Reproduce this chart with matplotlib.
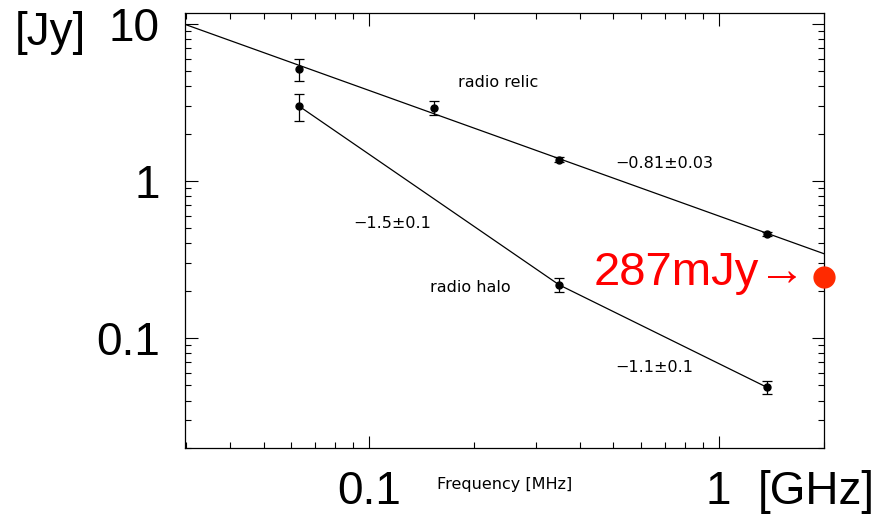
import numpy as np
import matplotlib.pyplot as plt
from matplotlib.ticker import LogLocator, NullFormatter, FixedLocator, FixedFormatter

# data (GHz, Jy)
relic_freq = [0.063, 0.153, 0.35, 1.37]
relic_flux = [5.17, 2.92, 1.36, 0.459]
relic_err = [0.83, 0.3, 0.05, 0.012]

halo_freq = [0.063, 0.35, 1.37]
halo_flux = [3.0, 0.218, 0.0488]
halo_err = [0.58, 0.022, 0.0045]

pred_freq = [2.0]
pred_flux = [0.245]

xticks = [0.1, 1]
xticklabels = ['0.1', '1']
yticks = [0.1, 1, 10]
yticklabels = ['0.1', '1', '10']

big = ['Liberation Sans', 'DejaVu Sans']
W, H = 883, 516


def px(x, y):
    # pixel position (from top-left) -> figure fraction
    return x / W, 1 - y / H


fig = plt.figure(figsize=(8.83, 5.16), dpi=100)
ax = fig.add_axes([185 / W, 68 / H, 639 / W, 435 / H])
ax.set_xscale('log')
ax.set_yscale('log')
ax.set_xlim(0.0298, 2.0)
ax.set_ylim(0.02, 11.7)

# relic: power-law fit over whole range
p = np.polyfit(np.log10(relic_freq), np.log10(relic_flux), 1)
xf = np.logspace(np.log10(0.0298), np.log10(2.0), 50)
ax.plot(xf, 10 ** np.polyval(p, np.log10(xf)), color='black', lw=0.9)
ax.errorbar(relic_freq, relic_flux, yerr=relic_err, fmt='o', color='black',
            ms=5, capsize=3.5, elinewidth=0.9, capthick=0.9)

# halo: broken power law through the points
ax.plot(halo_freq, halo_flux, color='black', lw=0.9)
ax.errorbar(halo_freq, halo_flux, yerr=halo_err, fmt='o', color='black',
            ms=5, capsize=3.5, elinewidth=0.9, capthick=0.9)

ax.plot(pred_freq, pred_flux, 'o', color='#ff2a00', ms=15, clip_on=False, zorder=5)

# ticks
ax.xaxis.set_major_locator(FixedLocator(xticks))
ax.xaxis.set_major_formatter(FixedFormatter(xticklabels))
ax.yaxis.set_major_locator(FixedLocator(yticks))
ax.yaxis.set_major_formatter(FixedFormatter(yticklabels))
for a in (ax.xaxis, ax.yaxis):
    a.set_minor_locator(LogLocator(base=10, subs=np.arange(2, 10)))
    a.set_minor_formatter(NullFormatter())
ax.tick_params(which='both', direction='in', top=True, right=True, width=0.8)
ax.tick_params(which='major', length=9)
ax.tick_params(which='minor', length=4.5)
ax.tick_params(axis='y', which='major', pad=18)
ax.tick_params(axis='x', which='major', pad=16)
for lab in ax.get_xticklabels() + ax.get_yticklabels():
    lab.set_family(big)
    lab.set_fontsize(33)
for s in ax.spines.values():
    s.set_linewidth(0.9)

# small annotations
small = dict(fontsize=11.5, va='center')
fig.text(*px(458, 82), 'radio relic', **small)
fig.text(*px(615, 163), '\u22120.81\u00b10.03', **small)
fig.text(*px(353, 224), '\u22121.5\u00b10.1', **small)
fig.text(*px(430, 287), 'radio halo', **small)
fig.text(*px(615, 368), '\u22121.1\u00b10.1', **small)
fig.text(*px(505, 485), 'Frequency [MHz]', fontsize=11.5, ha='center', va='center')

fig.text(*px(15, 45), '[Jy]', family=big, fontsize=33)
fig.text(*px(758, 504), '[GHz]', family=big, fontsize=33)
fig.text(*px(806, 285), '287mJy\u2192', family=big, fontsize=34,
         color='#ff0000', ha='right')

fig.savefig('out.png', dpi=100)
